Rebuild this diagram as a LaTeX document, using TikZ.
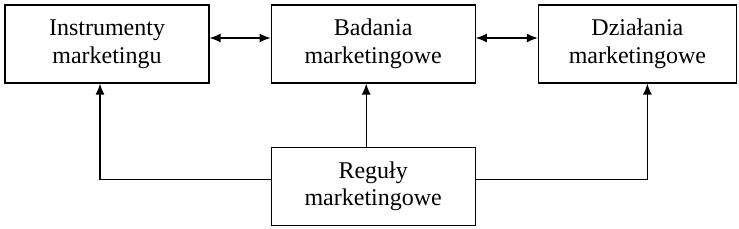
\documentclass[tikz,border=0pt]{standalone}
\usepackage{fontspec}
\setmainfont{Liberation Serif}
\usetikzlibrary{positioning, arrows.meta}

\begin{document}
\begin{tikzpicture}[
  x=1pt, y=-1pt,
  >={Latex[length=11pt, width=9pt]}, line width=1.2pt,
  box/.style = {draw, rectangle, minimum height=78pt, minimum width=204pt,
                align=center, inner sep=0pt, font=\fontsize{24}{27.5}\selectfont},
]
  \useasboundingbox (0,0) rectangle (739,229);

  % ---- Top row ----
  \node[box]                                    (instr) at (107,44) {Instrumenty\\marketingu};
  \node[box, right=61pt of instr]               (badan) {Badania\\marketingowe};
  \node[box, right=62pt of badan, minimum width=198pt] (dzial) {Działania\\marketingowe};

  % ---- Bottom ----
  \node[box, below=63pt of badan]               (regul) {Reguły\\marketingowe};

  \draw[<->] ([yshift=6pt]instr.east) -- ([yshift=6pt]badan.west);
  \draw[<->] ([yshift=6pt]badan.east) -- ([yshift=6pt]dzial.west);

  \draw[->] ([xshift=-7pt]regul.north) -- ([xshift=-7pt]badan.south);
  \draw[->] ([yshift=7pt]regul.west) -| ([xshift=-7pt]instr.south);
  \draw[->] ([yshift=7pt]regul.east) -| ([xshift=10pt]dzial.south);
\end{tikzpicture}
\end{document}
